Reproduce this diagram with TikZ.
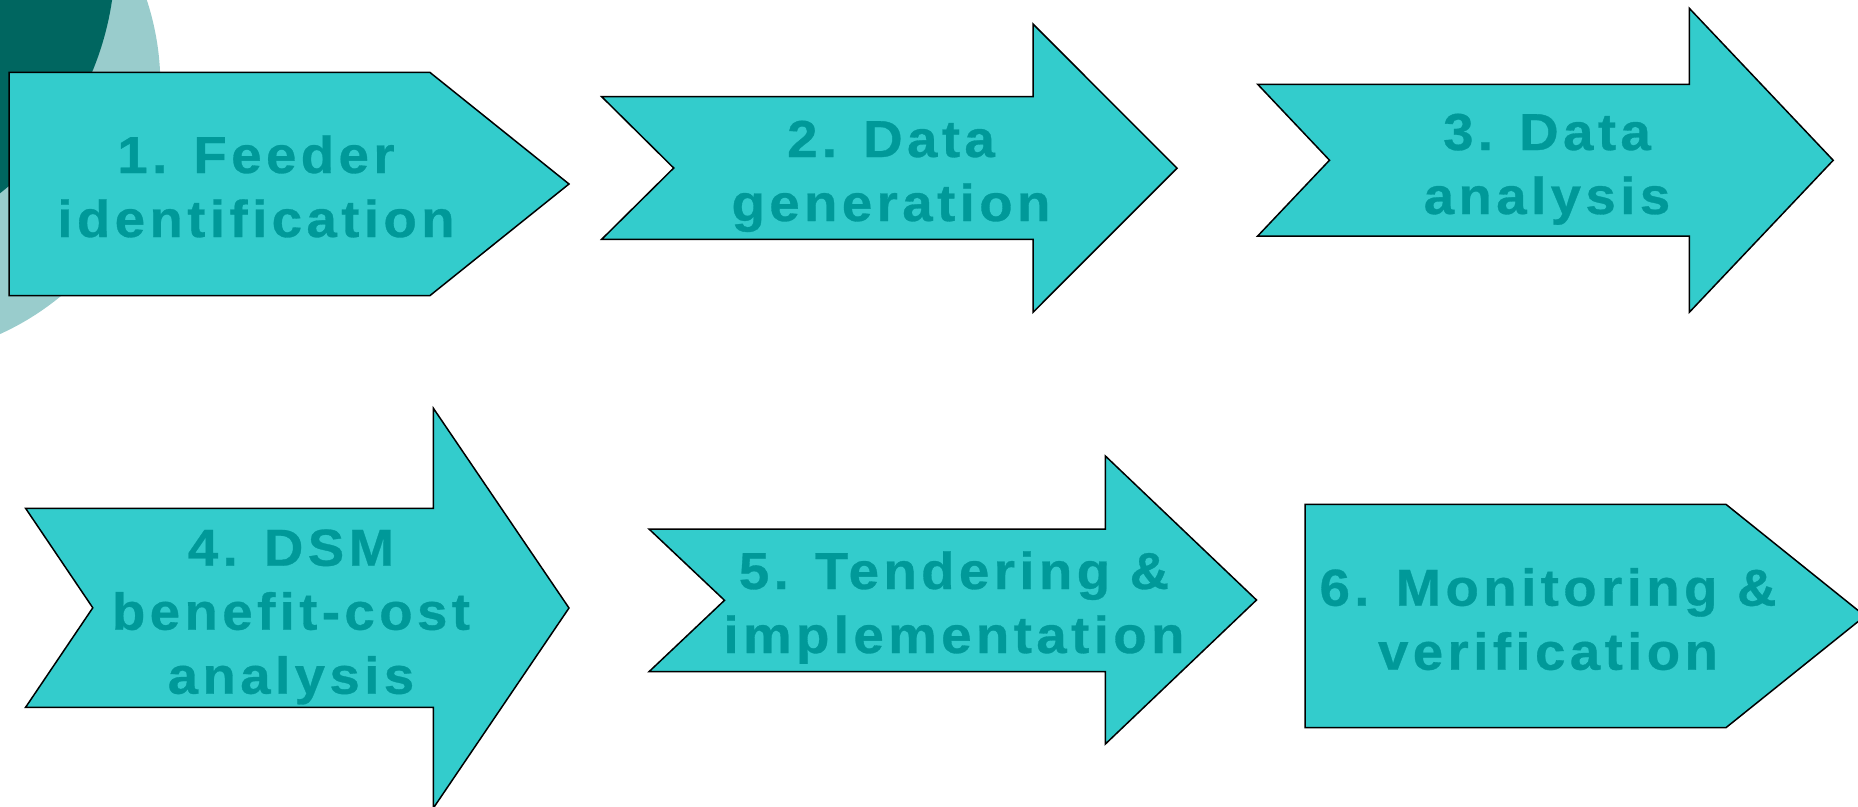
\documentclass[tikz,border=0pt]{standalone}
\usepackage{fontspec}
\newfontfamily\labelfont{Liberation Sans}[LetterSpace=8.5, FakeStretch=1.05, FakeBold=0.6]
\definecolor{aqua}{HTML}{33CCCC}
\definecolor{labelteal}{HTML}{009999}
\definecolor{deepteal}{HTML}{006660}
\definecolor{paleteal}{HTML}{99CCCC}
\tikzset{
  stepshape/.style={fill=aqua, draw=black, line width=1.5pt, line join=miter},
  steplabel/.style={text=labelteal, inner sep=0pt, anchor=base,
    font=\labelfont\bfseries\fontsize{52}{64}\selectfont}
}
\newcommand{\steptext}[1]{\begin{tabular}[t]{@{}c@{}}#1\end{tabular}}
\begin{document}
\begin{tikzpicture}[x=1pt, y=-1pt]
\useasboundingbox (0,0) rectangle (1858,806);

% decorative discs in the upper left corner
\fill[paleteal] (-112.6,85.3) circle (273pt);
\fill[deepteal] (-187.1,-44.3) circle (302.4pt);

% 1: home plate
\draw[stepshape] (9.2,72.3) -- (429.8,72.3) -- (569,184) -- (429.8,295.7) -- (9.2,295.7) -- cycle;
\node[steplabel] (s1) at (256,173) {\steptext{1. Feeder\\identification}};

% 2: notched arrow
\draw[stepshape] (601.7,96.7) -- (1033,96.7) -- (1033,24) -- (1177,168.2) -- (1033,312.3)
  -- (1033,239.3) -- (601.7,239.3) -- (673.7,168) -- cycle;
\node[steplabel] (s2) at (891,157) {\steptext{2. Data\\generation}};

% 3: notched arrow
\draw[stepshape] (1257.7,84.3) -- (1689.3,84.3) -- (1689.3,8.3) -- (1833.2,160.3) -- (1689.3,312.3)
  -- (1689.3,236) -- (1257.7,236) -- (1329.5,160.2) -- cycle;
\node[steplabel] (s3) at (1547,150) {\steptext{3. Data\\analysis}};

% 4: notched arrow
\draw[stepshape] (25.6,508.3) -- (433.4,508.3) -- (433.4,408.3) -- (569,608) -- (433.4,808)
  -- (433.4,707.3) -- (25.6,707.3) -- (92.8,607.8) -- cycle;
\node[steplabel] (s4) at (291,565.7) {\steptext{4. DSM\\benefit-cost\\analysis}};

% 5: notched arrow
\draw[stepshape] (649,529) -- (1105.4,529) -- (1105.4,456) -- (1256.5,600) -- (1105.4,744)
  -- (1105.4,671.7) -- (649,671.7) -- (724.5,600.3) -- cycle;
\node[steplabel] (s5) at (954,589) {\steptext{5. Tendering \&\\implementation}};

% 6: home plate
\draw[stepshape] (1305.2,504.3) -- (1725.9,504.3) -- (1865,616) -- (1725.9,727.7) -- (1305.2,727.7) -- cycle;
\node[steplabel] (s6) at (1548,605.7) {\steptext{6. Monitoring \&\\verification}};
\end{tikzpicture}
\end{document}
